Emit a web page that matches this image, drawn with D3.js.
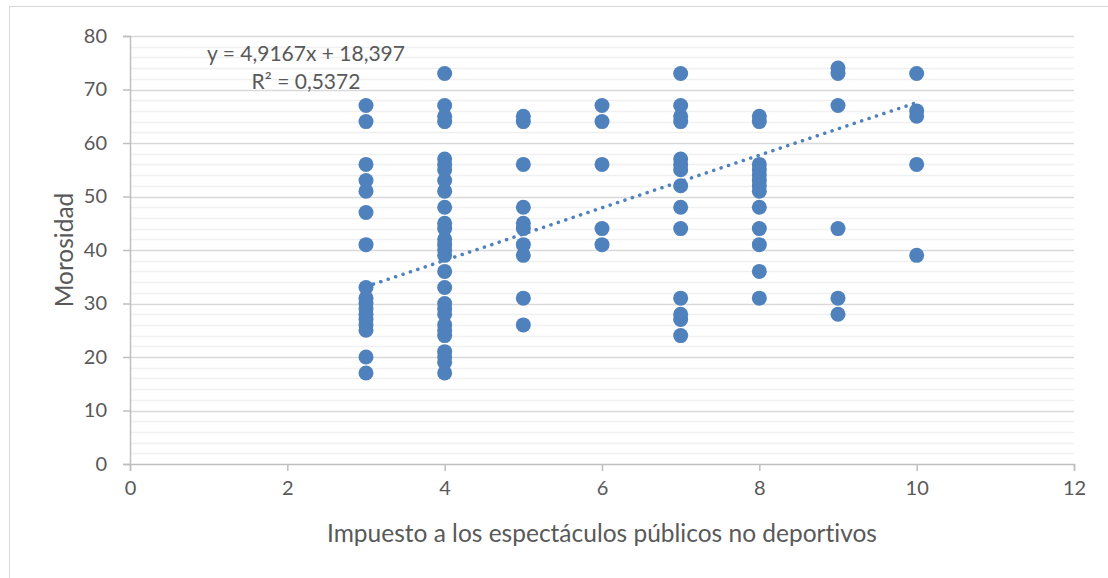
<!DOCTYPE html>
<html>
<head>
<meta charset="utf-8">
<script src="https://cdn.jsdelivr.net/npm/d3@7"></script>
<style>
  body { margin: 0; background: #fff; }
  svg text { font-family: Lato, "Open Sans", sans-serif; fill: #595959; font-variant-ligatures: none; }
</style>
</head>
<body>
<svg id="chart"></svg>
<script>
// valores, uno por columna del eje x
var impuesto = [3, 4, 5, 6, 7, 8, 9, 10];
var moros3 = [67, 64, 56, 53, 51, 47, 41, 33, 31, 30, 29, 28, 27, 26, 25, 20, 17];
var moros4 = [73, 67, 65, 64, 57, 56, 55, 53, 51, 48, 45, 44, 42, 41, 40, 39, 36, 33, 30, 29, 28, 26, 25, 24, 21, 20, 19, 17];
var moros5 = [65, 64, 56, 48, 45, 44, 41, 39, 31, 26];
var moros6 = [67, 64, 56, 44, 41];
var moros7 = [73, 67, 65, 64, 57, 56, 55, 52, 48, 44, 31, 28, 27, 24];
var moros8 = [65, 64, 56, 55, 54, 53, 52, 51, 48, 44, 41, 36, 31];
var moros9 = [74, 73, 67, 44, 31, 28];
var moros10 = [73, 66, 65, 56, 39];
var xTicks = [0, 2, 4, 6, 8, 10, 12];
var yTicks = [0, 10, 20, 30, 40, 50, 60, 70, 80];
var pendiente = 4.9167, intercepto = 18.397;
var ecuacion = ["y = 4,9167x + 18,397", "R² = 0,5372"];

var columnas = [moros3, moros4, moros5, moros6, moros7, moros8, moros9, moros10];
var puntos = [];
columnas.forEach(function (col, i) {
  col.forEach(function (v) { puntos.push({x: impuesto[i], y: v}); });
});

var width = 1108, height = 578,
color = "#4f81bd",
mLeft = 130, mRight = 1074, mTop = 36, mBottom = 464;

var svg = d3.select("#chart")
.attr("width", width)
.attr("height", height);

// marco del grafico
svg.append("rect")
.attr("x", 9.5).attr("y", 6.5)
.attr("width", width + 10).attr("height", height + 10)
.attr("fill", "none")
.attr("stroke", "#d9d9d9");

var x = d3.scaleLinear().domain([0, 12]).range([mLeft, mRight]);
var y = d3.scaleLinear().domain([0, 80]).range([mBottom, mTop]);

// lineas de division menores y mayores
svg.append("g")
.selectAll("line")
.data(d3.range(2, 80, 2).filter(function (d) { return d % 10 != 0; }))
.enter().append("line")
.attr("x1", mLeft).attr("x2", mRight)
.attr("y1", function (d) { return Math.round(y(d)) + 0.5; })
.attr("y2", function (d) { return Math.round(y(d)) + 0.5; })
.attr("stroke", "#f0f0f0")
.attr("stroke-width", 1.5);

svg.append("g")
.selectAll("line")
.data(yTicks.slice(1))
.enter().append("line")
.attr("x1", mLeft).attr("x2", mRight)
.attr("y1", function (d) { return Math.round(y(d)) + 0.5; })
.attr("y2", function (d) { return Math.round(y(d)) + 0.5; })
.attr("stroke", "#d9d9d9")
.attr("stroke-width", 1.5);

var xAxis = svg.append("g")
.attr("transform", "translate(0," + mBottom + ")")
.call(d3.axisBottom(x).tickValues(xTicks).tickSize(7).tickPadding(10));

var yAxis = svg.append("g")
.attr("transform", "translate(" + mLeft + ",0)")
.call(d3.axisLeft(y).tickValues(yTicks).tickSize(7).tickPadding(16));

[xAxis, yAxis].forEach(function (a) {
  a.selectAll("path, line").attr("stroke", "#bfbfbf").attr("stroke-width", 1.5);
  a.selectAll("text").attr("font-size", "20px").style("fill", "#595959")
  .attr("font-family", "Lato, sans-serif");
});

// puntos
svg.append("g")
.selectAll("circle")
.data(puntos)
.enter().append("circle")
.attr("cx", function (d) { return x(d.x); })
.attr("cy", function (d) { return y(d.y); })
.attr("r", 7.5)
.attr("fill", color);

// linea de tendencia
var tendencia = d3.line()
.x(function (d) { return x(d); })
.y(function (d) { return y(pendiente * d + intercepto); });

svg.append("path")
.datum([d3.min(impuesto), d3.max(impuesto)])
.attr("d", tendencia)
.attr("fill", "none")
.attr("stroke", color)
.attr("stroke-width", 3.5)
.attr("stroke-linecap", "round")
.attr("stroke-dasharray", "0.1 7.7");

svg.append("g")
.selectAll("text")
.data(ecuacion)
.enter().append("text")
.attr("x", 306)
.attr("y", function (d, i) { return 61 + i * 28; })
.attr("text-anchor", "middle")
.attr("font-size", "21px")
.text(function (d) { return d; });

// titulos de ejes
svg.append("text")
.attr("x", (mLeft + mRight) / 2)
.attr("y", 542)
.attr("text-anchor", "middle")
.attr("font-size", "24.5px")
.text("Impuesto a los espectáculos públicos no deportivos");

svg.append("text")
.attr("transform", "translate(73," + (mTop + mBottom) / 2 + ")rotate(-90)")
.attr("text-anchor", "middle")
.attr("font-size", "24.5px")
.text("Morosidad");
</script>
</body>
</html>
